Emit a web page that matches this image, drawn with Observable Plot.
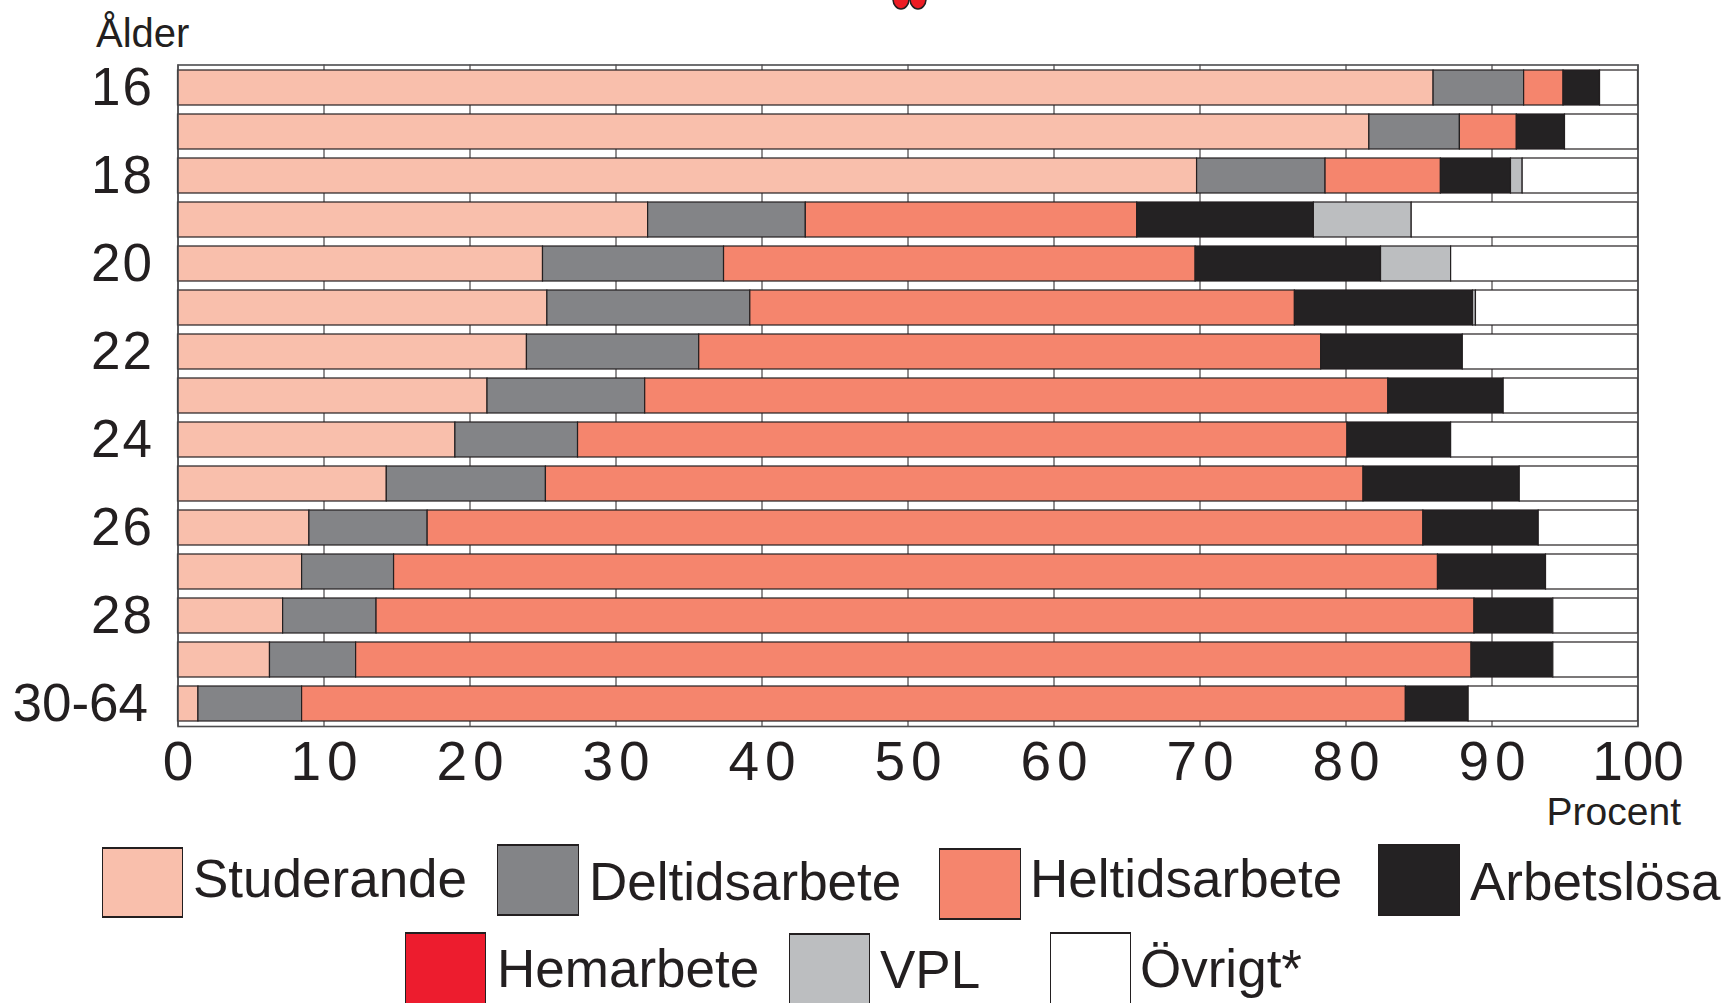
<!DOCTYPE html>
<html>
<head>
<meta charset="utf-8">
<script src="https://cdn.jsdelivr.net/npm/d3@7"></script>
<script src="https://cdn.jsdelivr.net/npm/@observablehq/plot@0.6"></script>
<style>
  html, body { margin: 0; padding: 0; background: #fff; }
  #wrap { position: relative; width: 1726px; height: 1003px; overflow: hidden; font-family: "Liberation Sans", Arial, Helvetica, sans-serif; color: #231f20; }
  #chart { position: absolute; left: 0; top: 0; }
  .lbl { position: absolute; white-space: nowrap; line-height: 1; }
  .sw { position: absolute; box-sizing: border-box; border: 1.5px solid #231f20; border-top-width: 2.5px; border-bottom-width: 2.5px; }
  .lt { position: absolute; white-space: nowrap; font-size: 53px; line-height: 53px; }
</style>
</head>
<body>
<div id="wrap">
  <div id="chart"></div>
</div>
<script>
// ---- data ----
const ages = ["16","17","18","19","20","21","22","23","24","25","26","27","28","29","30-64"];
const yTickLabels = ["16","18","20","22","24","26","28","30-64"];
const xTicks = [0,10,20,30,40,50,60,70,80,90,100];
const categories = ["Studerande","Deltidsarbete","Heltidsarbete","Arbetslösa","Hemarbete","VPL","Övrigt*"];
const colors = ["#f9bfac","#838487","#f5856d","#242223","#ed1c2e","#bcbec0","#ffffff"];

const studerande   = [86.0, 81.6, 69.8, 32.2, 25.0, 25.3, 23.9, 21.2, 19.0, 14.3,  9.0,  8.5,  7.2,  6.3,  1.4];
const deltid       = [ 6.2,  6.2,  8.8, 10.8, 12.4, 13.9, 11.8, 10.8,  8.4, 10.9,  8.1,  6.3,  6.4,  5.9,  7.1];
const heltid       = [ 2.7,  3.9,  7.9, 22.7, 32.3, 37.3, 42.6, 50.9, 52.7, 56.0, 68.2, 71.5, 75.2, 76.4, 75.6];
const arbetslosa   = [ 2.5,  3.3,  4.8, 12.1, 12.7, 12.2,  9.7,  7.9,  7.1, 10.7,  7.9,  7.4,  5.4,  5.6,  4.3];
const hemarbete    = [ 0,    0,    0,    0,    0,    0,    0,    0,    0,    0,    0,    0,    0,    0,    0  ];
const vpl          = [ 0,    0,    0.8,  6.7,  4.8,  0.2,  0,    0,    0,    0,    0,    0,    0,    0,    0  ];
const ovrigt       = [ 2.6,  5.0,  7.9, 15.5, 12.8, 11.1, 12.0,  9.2, 12.8,  8.1,  6.8,  6.3,  5.8,  5.8, 11.6];

const series = [studerande, deltid, heltid, arbetslosa, hemarbete, vpl, ovrigt];
const rows = ages.flatMap((age, i) => categories.map((cat, j) => ({age, cat, value: series[j][i]})))
                 .filter(d => d.value > 0);

const ink = "#231f20";

const plot = Plot.plot({
  width: 1726,
  height: 800,
  marginLeft: 177.5,
  marginRight: 88.5,
  marginTop: 64.5,
  marginBottom: 74,
  style: {fontFamily: "'Liberation Sans', Arial, Helvetica, sans-serif", color: ink, background: "transparent", overflow: "visible"},
  x: {domain: [0, 100], label: null},
  y: {domain: ages, paddingInner: 0.2, paddingOuter: 0.1, label: null},
  color: {domain: categories, range: colors},
  marks: [
    Plot.gridX(xTicks, {stroke: ink, strokeOpacity: 1, strokeWidth: 1}),
    Plot.barX(rows, {x: "value", y: "age", fill: "cat", stroke: ink, strokeWidth: 1.2}),
    Plot.frame({stroke: "#4d4d4f", strokeWidth: 1.6}),
    Plot.axisX(xTicks, {tickSize: 0, tickPadding: 14, fontSize: 55, label: null, tickFormat: d => String(d)}),
    Plot.axisY({tickSize: 0, tickPadding: 30, fontSize: 53, label: null,
      tickFormat: d => yTickLabels.includes(d) ? d : ""})
  ]
});
document.getElementById("chart").appendChild(plot);

// letter spacing on two-digit labels (as in the original typesetting)
plot.querySelectorAll('[aria-label="x-axis tick label"] text').forEach(t => {
  if (t.textContent.length === 2) { t.setAttribute("letter-spacing", "6px"); t.setAttribute("dx", "3"); }
});
plot.querySelectorAll('[aria-label="y-axis tick label"] text').forEach(t => {
  if (t.textContent.length === 2) { t.setAttribute("letter-spacing", "2px"); t.setAttribute("dx", "6"); }
});

const wrap = document.getElementById("wrap");
function addText(txt, left, top, size, extra) {
  const el = document.createElement("div");
  el.className = "lbl";
  el.textContent = txt;
  el.style.left = left + "px";
  el.style.top = top + "px";
  el.style.fontSize = size + "px";
  if (extra) Object.assign(el.style, extra);
  wrap.appendChild(el);
}
addText("Ålder", 96, 13, 40);
addText("Procent", null, 792, 39, {left: "auto", right: "45px"});

// legend
const legendPos = [
  {sw: [102, 847, 81, 71],  tx: [193, 852]},
  {sw: [497, 844, 82, 72],  tx: [589, 855]},
  {sw: [939, 848, 82, 72],  tx: [1030, 852]},
  {sw: [1378, 844, 82, 72], tx: [1470, 855]},
  {sw: [405, 932, 81, 74],  tx: [497, 942]},
  {sw: [789, 933, 81, 74],  tx: [880, 943]},
  {sw: [1050, 932, 81, 74], tx: [1140, 942]}
];
categories.forEach((c, i) => {
  const p = legendPos[i];
  const sw = document.createElement("div");
  sw.className = "sw";
  sw.style.left = p.sw[0] + "px"; sw.style.top = p.sw[1] + "px";
  sw.style.width = p.sw[2] + "px"; sw.style.height = p.sw[3] + "px";
  sw.style.background = colors[i];
  wrap.appendChild(sw);
  const t = document.createElement("div");
  t.className = "lt";
  t.textContent = c;
  t.style.left = p.tx[0] + "px"; t.style.top = p.tx[1] + "px";
  wrap.appendChild(t);
});

// small cut-off red ornament at the top edge
const orn = document.createElementNS("http://www.w3.org/2000/svg", "svg");
orn.setAttribute("width", "40"); orn.setAttribute("height", "24");
orn.style.position = "absolute"; orn.style.left = "890px"; orn.style.top = "-13px";
orn.innerHTML = '<ellipse cx="11" cy="12" rx="8" ry="10" fill="#ed1c24" stroke="#231f20" stroke-width="1.5"/>' +
                '<ellipse cx="28" cy="12" rx="8" ry="10" fill="#ed1c24" stroke="#231f20" stroke-width="1.5"/>';
wrap.appendChild(orn);
</script>
</body>
</html>
